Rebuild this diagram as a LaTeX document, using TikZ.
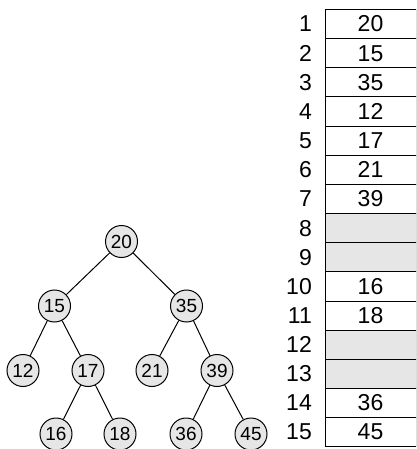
\documentclass[tikz,border=0pt]{standalone}
\usepackage{fontspec}
\setmainfont{Liberation Sans}
\definecolor{cellgray}{HTML}{E6E6E6}
\begin{document}
\begin{tikzpicture}[x=1pt,y=-1pt,
  tn/.style={circle,draw=black,fill=cellgray,line width=1pt,minimum size=32pt,inner sep=0pt,font=\fontsize{19}{19}\selectfont},
  edge/.style={line width=1pt},
  cell/.style={draw=black,line width=1pt},
  gcell/.style={cell,fill=cellgray},
  idx/.style={anchor=east,inner sep=0pt,font=\fontsize{23}{23}\selectfont},
  val/.style={inner sep=0pt,font=\fontsize{23}{23}\selectfont}]
\useasboundingbox (0,0) rectangle (416,449);
\clip (0,0) rectangle (416,449);
% tree
\node[tn] (n20) at (121.5,241.5) {20};
\node[tn] (n15) at (54.5,306) {15};
\node[tn] (n35) at (186.5,306) {35};
\node[tn] (n12) at (23,370.5) {12};
\node[tn] (n17) at (88,370.5) {17};
\node[tn] (n21) at (152,370.5) {21};
\node[tn] (n39) at (217,370.5) {39};
\node[tn] (n16) at (56,434) {16};
\node[tn] (n18) at (120,434) {18};
\node[tn] (n36) at (186,434) {36};
\node[tn] (n45) at (251,434) {45};
\draw[edge] (n20) -- (n15);
\draw[edge] (n20) -- (n35);
\draw[edge] (n15) -- (n12);
\draw[edge] (n15) -- (n17);
\draw[edge] (n35) -- (n21);
\draw[edge] (n35) -- (n39);
\draw[edge] (n17) -- (n16);
\draw[edge] (n17) -- (n18);
\draw[edge] (n39) -- (n36);
\draw[edge] (n39) -- (n45);
% array
\foreach \i/\v/\g in {1/20/0,2/15/0,3/35/0,4/12/0,5/17/0,6/21/0,7/39/0,8//1,9//1,10/16/0,11/18/0,12//1,13//1,14/36/0,15/45/0}{
  \pgfmathsetmacro{\top}{9.5+29.15*(\i-1)}
  \pgfmathsetmacro{\bot}{9.5+29.15*\i}
  \pgfmathsetmacro{\mid}{9.5+29.15*(\i-0.5)}
  \ifnum\g=1
    \draw[gcell] (325.5,\top) rectangle (416.5,\bot);
  \else
    \draw[cell] (325.5,\top) rectangle (416.5,\bot);
  \fi
  \node[idx] (i\i) at (312,\mid) {\i};
  \node[val] (v\i) at (370.5,\mid) {\v};
}
\end{tikzpicture}
\end{document}
